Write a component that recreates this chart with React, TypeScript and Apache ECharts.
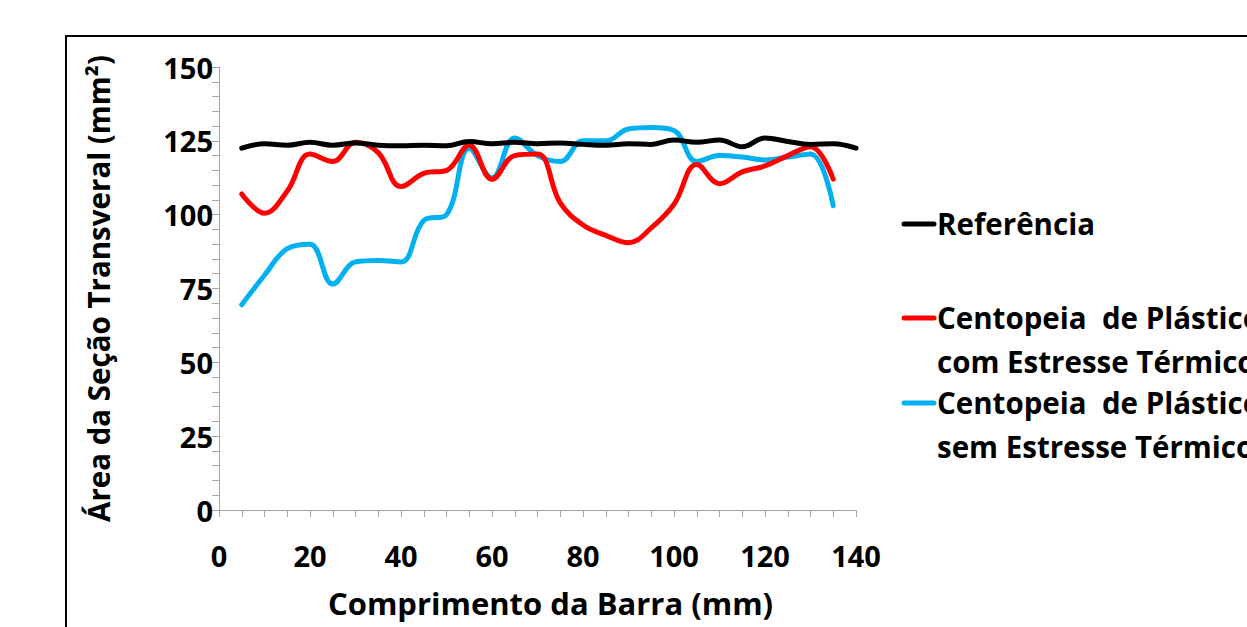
import React, { useEffect, useRef } from "react";
import * as echarts from "echarts";

const xValues = [5, 10, 15, 20, 25, 30, 35, 40, 45, 50, 55, 60, 65, 70, 75, 80, 85, 90, 95, 100, 105, 110, 115, 120, 125, 130, 135, 140];
const referencia = [122.5, 124, 123.5, 124.5, 123.5, 124.3, 123.5, 123.3, 123.5, 123.3, 124.8, 124, 124.5, 124, 124.3, 123.8, 123.5, 124, 123.8, 125.3, 124.5, 125.3, 123, 126, 124.8, 123.8, 124, 122.5];
const comEstresse = [107, 100.5, 108, 120.5, 118, 124.5, 121, 109.5, 114, 115, 123.5, 112, 120, 120.5, 104, 96.5, 93, 90.5, 95.5, 103.5, 117, 110.5, 114.5, 116.5, 120, 123, 112];
const semEstresse = [69.5, 79.5, 88.5, 90, 76.5, 84, 84.5, 84, 98, 100, 122.5, 112.5, 126, 120, 118, 125, 125, 129, 129.5, 128.5, 118, 120, 119.5, 118.5, 119.5, 120.5, 103];

const seriesNames = ["Referência", "Centopeia  de Plástico\ncom Estresse Térmico", "Centopeia  de Plástico\nsem Estresse Térmico"];
const seriesColors = ["#000000", "#ff0000", "#00b0f0"];
const xTitle = "Comprimento da Barra (mm)";
const yTitle = "Área da Seção Transveral (mm²)";

const FONT = "'Open Sans', 'DejaVu Sans', sans-serif";

function pairs(vals: number[]) {
  return vals.map((v, i) => [xValues[i], v]);
}

export default function App() {
  const ref = useRef<HTMLDivElement>(null);
  useEffect(() => {
    if (!ref.current) return;
    const chart = echarts.init(ref.current, undefined, { renderer: "svg" });
    const datasets = [referencia, comEstresse, semEstresse];
    const legendY = [224, 318, 403];
    const legendGraphics: any[] = [];
    seriesNames.forEach((name, i) => {
      legendGraphics.push({
        type: "line",
        shape: { x1: 904, y1: legendY[i], x2: 934, y2: legendY[i] },
        style: { stroke: seriesColors[i], lineWidth: 5, lineCap: "round" },
      });
      legendGraphics.push({
        type: "text",
        x: 937,
        y: legendY[i] - 23,
        style: {
          text: name,
          font: `bold 29.5px ${FONT}`,
          fill: "#000",
          lineHeight: 44,
          textVerticalAlign: "top",
        },
      });
    });
    const option: any = {
      animation: false,
      backgroundColor: "#fff",
      grid: { left: 219, top: 67, width: 637, height: 443, containLabel: false },
      xAxis: {
        type: "value",
        min: 0,
        max: 140,
        interval: 20,
        name: xTitle,
        nameLocation: "middle",
        nameGap: 77,
        nameTextStyle: { fontFamily: FONT, fontWeight: "bold", fontSize: 31, color: "#000", padding: [0, 0, 0, 26] },
        axisLine: { show: true, lineStyle: { color: "#a6a6a6", width: 1 } },
        axisTick: { show: true, length: 7, lineStyle: { color: "#a6a6a6" } },
        minorTick: { show: true, splitNumber: 4, length: 7, lineStyle: { color: "#a6a6a6" } },
        splitLine: { show: false },
        axisLabel: { fontFamily: FONT, fontWeight: "bold", fontSize: 29, color: "#000", margin: 31 },
      },
      yAxis: {
        type: "value",
        min: 0,
        max: 150,
        interval: 25,
        name: yTitle,
        nameLocation: "middle",
        nameRotate: 90,
        nameGap: 106,
        nameTextStyle: { fontFamily: FONT, fontWeight: "bold", fontSize: 29.5, color: "#000" },
        axisLine: { show: true, lineStyle: { color: "#a6a6a6", width: 1 } },
        axisTick: { show: true, length: 7, lineStyle: { color: "#a6a6a6" } },
        minorTick: { show: true, splitNumber: 5, length: 7, lineStyle: { color: "#a6a6a6" } },
        splitLine: { show: false },
        axisLabel: { fontFamily: FONT, fontWeight: "bold", fontSize: 29, color: "#000", margin: 6 },
      },
      series: datasets.map((d, i) => ({
        type: "line",
        name: seriesNames[i],
        data: pairs(d),
        smooth: 0.4,
        showSymbol: false,
        symbol: "none",
        lineStyle: { color: seriesColors[i], width: 5, cap: "round", join: "round" },
        itemStyle: { color: seriesColors[i] },
        z: 3 - i,
      })),
      graphic: [
        {
          type: "rect",
          shape: { x: 66, y: 36, width: 1400, height: 800 },
          style: { fill: "none", stroke: "#000", lineWidth: 2 },
          silent: true,
        },
        ...legendGraphics,
      ],
    };
    chart.setOption(option);
    return () => chart.dispose();
  }, []);
  return (
    <div
      ref={ref}
      style={{ position: "absolute", left: 0, top: 0, width: 1247, height: 627, background: "#fff" }}
    />
  );
}
